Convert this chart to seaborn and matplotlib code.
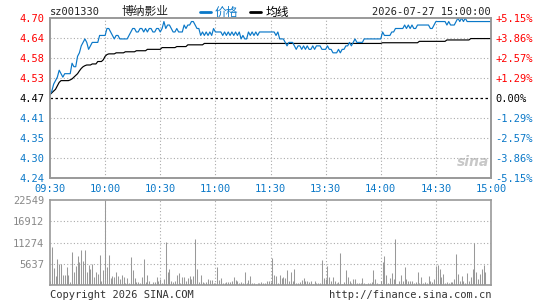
import numpy as np
import matplotlib
matplotlib.use("Agg")
import matplotlib.pyplot as plt
from matplotlib.lines import Line2D
import seaborn as sns

stock_code = "sz001330"
stock_name = "博纳影业"
stamp = "2026-07-27 15:00:00"
prev_close = 4.47
pct_range = 5.15

time_labels = ["09:30", "10:00", "10:30", "11:00", "11:30", "13:30", "14:00", "14:30", "15:00"]
time_ticks = [0, 30, 60, 90, 120, 150, 180, 210, 240]
price_labels = ["4.24", "4.30", "4.35", "4.41", "4.47", "4.53", "4.58", "4.64", "4.70"]
pct_labels = ["-5.15%", "-3.86%", "-2.57%", "-1.29%", "0.00%", "+1.29%", "+2.57%", "+3.86%", "+5.15%"]
vol_ticks = [5637, 11274, 16912, 22549]

# minute prices 09:30 .. 11:30, 13:01 .. 15:00
price = [
    4.48, 4.49, 4.51, 4.52, 4.53, 4.55, 4.54, 4.53, 4.54, 4.54,
    4.54, 4.54, 4.57, 4.56, 4.56, 4.59, 4.60, 4.62, 4.63, 4.64,
    4.63, 4.61, 4.62, 4.63, 4.63, 4.63, 4.63, 4.65, 4.65, 4.65,
    4.65, 4.67, 4.67, 4.66, 4.65, 4.64, 4.65, 4.65, 4.64, 4.64,
    4.64, 4.64, 4.64, 4.65, 4.66, 4.67, 4.67, 4.66, 4.66, 4.67,
    4.67, 4.66, 4.67, 4.66, 4.67, 4.67, 4.66, 4.66, 4.67, 4.67,
    4.66, 4.67, 4.69, 4.67, 4.68, 4.68, 4.67, 4.66, 4.66, 4.67,
    4.66, 4.66, 4.66, 4.68, 4.67, 4.68, 4.68, 4.69, 4.69, 4.68,
    4.67, 4.67, 4.65, 4.66, 4.65, 4.66, 4.65, 4.66, 4.65, 4.67,
    4.66, 4.66, 4.66, 4.66, 4.65, 4.66, 4.65, 4.66, 4.65, 4.66,
    4.65, 4.66, 4.65, 4.66, 4.64, 4.65, 4.64, 4.64, 4.66, 4.65,
    4.66, 4.65, 4.66, 4.65, 4.66, 4.66, 4.66, 4.66, 4.66, 4.66,
    4.66, 4.66, 4.66, 4.65, 4.66, 4.64, 4.64, 4.64, 4.63, 4.62,
    4.63, 4.63, 4.63, 4.62, 4.61, 4.62, 4.62, 4.61, 4.62, 4.61,
    4.62, 4.61, 4.61, 4.62, 4.61, 4.62, 4.62, 4.62, 4.61, 4.61,
    4.61, 4.62, 4.61, 4.61, 4.60, 4.60, 4.60, 4.61, 4.60, 4.61,
    4.61, 4.62, 4.62, 4.63, 4.62, 4.63, 4.64, 4.63, 4.63, 4.63,
    4.63, 4.64, 4.64, 4.64, 4.64, 4.64, 4.64, 4.64, 4.64, 4.64,
    4.64, 4.66, 4.65, 4.65, 4.65, 4.65, 4.66, 4.66, 4.67, 4.67,
    4.67, 4.67, 4.67, 4.68, 4.67, 4.68, 4.67, 4.68, 4.67, 4.67,
    4.68, 4.68, 4.68, 4.68, 4.68, 4.68, 4.68, 4.67, 4.67, 4.68,
    4.69, 4.69, 4.69, 4.69, 4.69, 4.69, 4.68, 4.69, 4.68, 4.68,
    4.68, 4.69, 4.70, 4.69, 4.70, 4.69, 4.70, 4.69, 4.69, 4.69,
    4.69, 4.69, 4.69, 4.69, 4.69, 4.69, 4.69, 4.69, 4.69, 4.69,
    4.69,
]

avg_price = (
    [4.480, 4.485, 4.490, 4.495, 4.505, 4.515, 4.520, 4.520, 4.520, 4.520,
     4.520, 4.522, 4.525, 4.530, 4.535, 4.540, 4.548, 4.555, 4.560, 4.563,
     4.565, 4.565, 4.565, 4.568, 4.568, 4.568, 4.575, 4.575, 4.575, 4.580,
     4.590, 4.595, 4.597, 4.597, 4.597, 4.597, 4.600, 4.600, 4.600, 4.600,
     4.600, 4.603, 4.603, 4.603, 4.603, 4.603, 4.603, 4.606, 4.606, 4.606,
     4.606, 4.606, 4.606, 4.610, 4.610, 4.610, 4.610, 4.610, 4.610, 4.610,
     4.610, 4.615, 4.615, 4.615, 4.615, 4.615, 4.615, 4.615, 4.615, 4.618,
     4.618, 4.618, 4.618, 4.618, 4.618, 4.623, 4.623, 4.623, 4.623, 4.623,
     4.623, 4.623, 4.623, 4.623]
    + [4.627] * 97
    + [4.629] * 20
    + [4.633] * 15
    + [4.637] * 13
    + [4.641] * 12
)

volume = [
    1160, 10110, 4475, 2500, 6800, 5640, 5460, 2775, 2775, 4740,
    2775, 900, 8770, 3580, 4920, 7600, 6085, 9220, 6265, 9220,
    3400, 5190, 4120, 5640, 2240, 3580, 2950, 7875, 1160, 3850,
    22549, 4740, 7875, 1790, 2500, 2060, 3580, 2500, 1610, 2685,
    2060, 540, 1790, 540, 7430, 3850, 1790, 900, 900, 540,
    2060, 6800, 720, 2685, 1160, 360, 720, 900, 2060, 1160,
    1610, 540, 1610, 11456, 3580, 4120, 1160, 900, 1160, 2775,
    3150, 540, 2240, 2240, 1160, 1880, 2500, 1610, 2500, 12170,
    4120, 720, 2775, 900, 540, 900, 1610, 1430, 1430, 540,
    540, 4740, 1430, 1790, 540, 540, 720, 720, 720, 1160,
    2060, 1430, 1160, 540, 900, 540, 3580, 540, 1430, 2420,
    540, 540, 360, 540, 540, 720, 540, 540, 1160, 1160,
    720, 7160, 2775, 2500, 540, 2775, 1790, 2060, 1790, 3850,
    1160, 3400, 1160, 4120, 540, 540, 900, 1430, 1790, 1160,
    1160, 900, 1160, 270, 1160, 540, 540, 540, 6535, 1790,
    1610, 4920, 2240, 1160, 2240, 1160, 540, 900, 8590, 270,
    900, 3850, 2240, 1160, 540, 1610, 1610, 540, 540, 540,
    1790, 540, 360, 540, 540, 900, 3850, 1610, 540, 270,
    1160, 6085, 7600, 2775, 540, 1790, 3130, 1610, 12170, 270,
    1160, 2775, 1160, 4740, 1610, 1160, 1160, 1160, 540, 900,
    3580, 540, 2060, 540, 900, 540, 2500, 1160, 900, 1610,
    5010, 5190, 4120, 2060, 2950, 540, 900, 540, 900, 900,
    1610, 8330, 2950, 1160, 2500, 1160, 540, 3130, 1160, 2060,
    4300, 11010, 3400, 1610, 2950, 4300, 5190, 3580, 0, 0,
    0,
]

blue = "#0a78c8"
red = "#ff0000"
frame = "#999999"
dots = "#aaaaaa"

sns.set_style("white")
plt.rcParams['font.family'] = ['DejaVu Sans Mono', 'Noto Sans CJK SC']
plt.rcParams['font.size'] = 7

minutes = np.arange(len(price))
lo = prev_close * (1 - pct_range / 100)
hi = prev_close * (1 + pct_range / 100)
price_ticks = np.linspace(lo, hi, len(price_labels))
mid = len(price_labels) // 2
label_colors = [blue] * mid + ["black"] + [red] * mid

fig = plt.figure(figsize=(5.45, 3.0), dpi=100)
ax = fig.add_axes([50 / 545, 122 / 300, 441 / 545, 160 / 300])
axv = fig.add_axes([50 / 545, 15 / 300, 441 / 545, 85 / 300])

# grid
for i, t in enumerate(price_ticks[1:-1], start=1):
    if i != mid:
        ax.axhline(t, color=dots, lw=0.8, ls=(0, (1, 2)), zorder=1)
for t in time_ticks[1:-1]:
    ax.axvline(t, color=dots, lw=0.8, ls=(0, (1, 2)), zorder=1)
    axv.axvline(t, color=dots, lw=0.8, ls=(0, (1, 2)), zorder=1)
for t in vol_ticks[:-1]:
    axv.axhline(t, color=dots, lw=0.8, ls=(0, (1, 2)), zorder=1)
ax.axhline(prev_close, color="black", lw=0.9, ls=(0, (2, 2)), zorder=2)

sns.lineplot(x=minutes, y=avg_price, ax=ax, color="black", lw=0.85, zorder=3)
sns.lineplot(x=minutes, y=price, ax=ax, color=blue, lw=0.85, zorder=4)

ax.set_xlim(0, len(price) - 1)
ax.set_ylim(lo, hi)
ax.set_yticks(price_ticks, price_labels)
for lbl, c in zip(ax.get_yticklabels(), label_colors):
    lbl.set_color(c)
ax.set_xticks(time_ticks, time_labels)
ax.tick_params(axis="x", length=0, pad=4, labelcolor=blue, labelsize=7.5)
ax.tick_params(axis="y", length=0, pad=4, labelsize=7.5)
ax.set_xlabel("")
ax.set_ylabel("")

axr = ax.twinx()
axr.set_ylim(lo, hi)
axr.set_yticks(price_ticks, pct_labels)
for lbl, c in zip(axr.get_yticklabels(), label_colors):
    lbl.set_color(c)
axr.tick_params(axis="y", length=0, pad=3, labelsize=7.5)

for a in (ax, axr, axv):
    for s in a.spines.values():
        s.set_color(frame)
        s.set_linewidth(1.2)

ax.text(0.96, 0.1, "sina", transform=ax.transAxes, ha="center", va="center",
        fontsize=10, fontstyle="italic", fontweight="bold", color="#c8c8c8",
        family="DejaVu Sans", zorder=0)

# volume
axv.vlines(minutes, 0, volume, color="#999999", lw=0.75, zorder=3)
axv.set_xlim(0, len(price) - 1)
axv.set_ylim(0, vol_ticks[-1])
axv.set_yticks(vol_ticks, [str(v) for v in vol_ticks])
axv.set_xticks(time_ticks, [])
axv.tick_params(axis="both", length=0, pad=4, labelsize=7.5, labelcolor="#888888")

# header
ytop = 1 - 12 / 300
fig.text(50 / 545, ytop, stock_code, ha="left", va="center", fontsize=7.5, color="#222222")
fig.text(121 / 545, ytop, stock_name, ha="left", va="center", fontsize=8.5, color="#222222",
         family=["Noto Sans CJK SC", "DejaVu Sans"])
fig.add_artist(Line2D([200 / 545, 211 / 545], [ytop, ytop], color=blue, lw=2))
fig.text(215 / 545, ytop, "价格", ha="left", va="center", fontsize=8.5, color=blue,
         family=["Noto Sans CJK SC", "DejaVu Sans"])
fig.add_artist(Line2D([250 / 545, 261 / 545], [ytop, ytop], color="black", lw=2))
fig.text(266 / 545, ytop, "均线", ha="left", va="center", fontsize=8.5, color="black",
         family=["Noto Sans CJK SC", "DejaVu Sans"])
fig.text(491 / 545, ytop, stamp, ha="right", va="center", fontsize=7.5, color="#222222")

# footer
fig.text(50 / 545, 5 / 300, "Copyright 2026 SINA.COM", ha="left", va="center", fontsize=7.5, color="#333333")
fig.text(491 / 545, 5 / 300, "http://finance.sina.com.cn", ha="right", va="center", fontsize=7.5, color="#333333")

fig.savefig("out.png", dpi=100)
